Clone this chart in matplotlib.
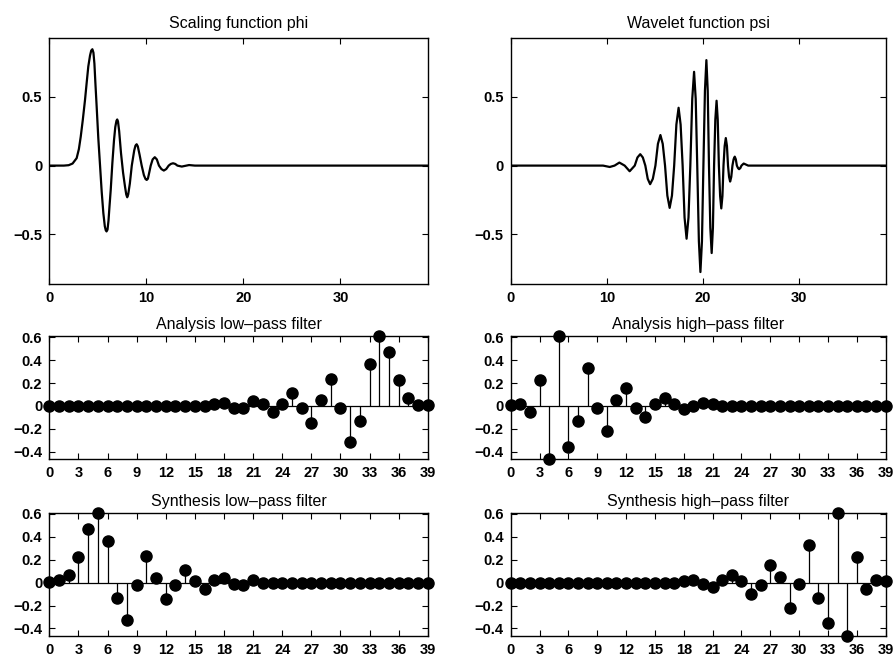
import numpy as np
import matplotlib
matplotlib.use("Agg")
from matplotlib import pyplot as plt

# Scaling function phi
phi_x = [0, 1.5, 2.0, 2.4, 2.82, 3.05, 3.24, 3.45, 3.68, 3.85, 4.02, 4.2, 4.32, 4.44,
         4.55, 4.65, 4.75, 4.88, 5.05, 5.23, 5.4, 5.57, 5.72, 5.82, 5.9, 6.0, 6.1,
         6.2, 6.33, 6.5, 6.67, 6.8, 6.92, 7.0, 7.08, 7.2, 7.39, 7.6, 7.8, 7.93,
         8.03, 8.13, 8.3, 8.5, 8.75, 8.88, 9.0, 9.12, 9.3, 9.52, 9.75, 9.92, 10.04,
         10.16, 10.3, 10.45, 10.65, 10.87, 11.08, 11.3, 11.55, 11.8, 12.05, 12.3,
         12.52, 12.75, 12.98, 13.2, 13.65, 14.4, 15.0, 39.0]
phi_y = [0, 0, 0.003, 0.015, 0.054, 0.12, 0.21, 0.33, 0.476, 0.60, 0.72, 0.80, 0.835,
         0.845, 0.82, 0.74, 0.60, 0.43, 0.20, 0.0, -0.19, -0.345, -0.44, -0.47,
         -0.478, -0.465, -0.40, -0.30, -0.176, 0.02, 0.186, 0.28, 0.325, 0.335, 0.32,
         0.25, 0.09, -0.05, -0.152, -0.21, -0.23, -0.21, -0.13, 0.0, 0.11, 0.145,
         0.155, 0.14, 0.08, 0.0, -0.07, -0.098, -0.104, -0.095, -0.05, 0.0, 0.045,
         0.061, 0.045, 0.0, -0.025, -0.036, -0.025, 0.0, 0.012, 0.017, 0.012, 0.0,
         -0.007, 0.004, 0.0, 0.0]

# Wavelet function psi
psi_x = [0, 9.6, 10.3, 10.8, 11.3, 11.85, 12.37, 12.9, 13.18, 13.47, 13.74, 14.0,
         14.25, 14.5, 14.78, 15.05, 15.31, 15.57, 15.81, 16.05, 16.29, 16.53, 16.77,
         17.0, 17.23, 17.46, 17.67, 17.88, 18.08, 18.29, 18.49, 18.68, 18.88, 19.07,
         19.24, 19.4, 19.57, 19.73, 19.89, 20.04, 20.2, 20.35, 20.49, 20.62, 20.76,
         20.9, 21.03, 21.15, 21.28, 21.41, 21.53, 21.65, 21.78, 21.9, 22.02, 22.13,
         22.25, 22.37, 22.49, 22.6, 22.71, 22.82, 22.94, 23.06, 23.18, 23.3, 23.41,
         23.52, 23.64, 23.75, 23.88, 24.0, 24.23, 24.7, 39.0]
psi_y = [0, 0, -0.01, 0.0, 0.022, 0.0, -0.041, 0.0, 0.059, 0.083, 0.059, 0.0,
         -0.096, -0.135, -0.096, 0.0, 0.158, 0.222, 0.158, 0.0, -0.218, -0.307,
         -0.218, 0.0, 0.298, 0.42, 0.298, 0.0, -0.377, -0.531, -0.377, 0.0, 0.484,
         0.681, 0.484, 0.0, -0.549, -0.773, -0.549, 0.0, 0.544, 0.766, 0.544, 0.0,
         -0.451, -0.635, -0.451, 0.0, 0.334, 0.471, 0.334, 0.0, -0.221, -0.311,
         -0.221, 0.0, 0.142, 0.2, 0.142, 0.0, -0.082, -0.116, -0.082, 0.0, 0.046,
         0.065, 0.046, 0.0, -0.018, -0.026, -0.018, 0.0, 0.015, 0.0, 0.0]

# Filter coefficients (index 0..39)
lo_d = [0, 0, 0, 0, 0, 0, 0, 0, 0, 0, 0, 0, 0, 0, 0, 0, 0, 0.02, 0.026, -0.02,
        -0.02, 0.043, 0.015, -0.055, 0.02, 0.11, -0.02, -0.145, 0.052, 0.235, -0.014,
        -0.319, -0.13, 0.362, 0.61, 0.472, 0.223, 0.07, 0.012, 0.005]
hi_d = [0.006, 0.02, -0.055, 0.223, -0.463, 0.61, -0.357, -0.13, 0.333, -0.014,
        -0.217, 0.052, 0.16, -0.017, -0.096, 0.017, 0.067, 0.014, -0.03, 0.0, 0.029,
        0.014, 0, 0, 0, 0, 0, 0, 0, 0, 0, 0, 0, 0, 0, 0, 0, 0, 0, 0]
lo_r = [0.005, 0.02, 0.07, 0.227, 0.471, 0.61, 0.362, -0.132, -0.322, -0.017, 0.23,
        0.043, -0.147, -0.02, 0.109, 0.014, -0.055, 0.02, 0.04, -0.009, -0.017, 0.02,
        0, 0, 0, 0, 0, 0, 0, 0, 0, 0, 0, 0, 0, 0, 0, 0, 0, 0]
hi_r = [0, 0, 0, 0, 0, 0, 0, 0, 0, 0, 0, 0, 0, 0, 0, 0, 0, 0, 0.01, 0.02, -0.01,
        -0.037, 0.02, 0.07, 0.01, -0.095, -0.023, 0.158, 0.049, -0.218, -0.014, 0.328,
        -0.13, -0.353, 0.61, -0.463, 0.227, -0.055, 0.026, 0.01]

plt.rcParams['font.family'] = ['Liberation Sans', 'DejaVu Sans']
plt.rcParams['xtick.direction'] = 'in'
plt.rcParams['ytick.direction'] = 'in'
plt.rcParams['xtick.top'] = True
plt.rcParams['ytick.right'] = True

fig = plt.figure(figsize=(8.96, 6.59), dpi=100)

left_l, w_l = 0.055, 0.4225
left_r, w_r = 0.570, 0.4185
title_size = 11.5


def style(ax):
    for s in ax.spines.values():
        s.set_linewidth(1.0)
    ax.tick_params(length=4, width=0.8, pad=5, labelsize=10.5)
    for lab in ax.get_xticklabels() + ax.get_yticklabels():
        lab.set_fontweight('bold')


# Top row: phi and psi
ax = fig.add_axes([left_l, 0.569, w_l, 0.373])
ax.plot(phi_x, phi_y, color='black', lw=1.6)
ax.set_xlim(0, 39)
ax.set_ylim(-0.86, 0.925)
ax.set_xticks([0, 10, 20, 30])
ax.set_yticks([-0.5, 0, 0.5])
ax.set_yticklabels(['\u22120.5', '0', '0.5'])
ax.set_title('Scaling function phi', fontsize=title_size, pad=7)
style(ax)

ax = fig.add_axes([left_r, 0.569, w_r, 0.373])
ax.plot(psi_x, psi_y, color='black', lw=1.6)
ax.set_xlim(0, 39)
ax.set_ylim(-0.86, 0.925)
ax.set_xticks([0, 10, 20, 30])
ax.set_yticks([-0.5, 0, 0.5])
ax.set_yticklabels(['\u22120.5', '0', '0.5'])
ax.set_title('Wavelet function psi', fontsize=title_size, pad=7)
style(ax)

panels = [
    (lo_d, 'Analysis low\u2013pass filter', left_l, w_l, 0.3035),
    (hi_d, 'Analysis high\u2013pass filter', left_r, w_r, 0.3035),
    (lo_r, 'Synthesis low\u2013pass filter', left_l, w_l, 0.0354),
    (hi_r, 'Synthesis high\u2013pass filter', left_r, w_r, 0.0354),
]
allv = lo_d + hi_d + lo_r + hi_r
for vals, title, x0, w, y0 in panels:
    ax = fig.add_axes([x0, y0, w, 0.1865])
    k = np.arange(len(vals))
    ax.vlines(k, 0, vals, color='black', lw=0.9)
    ax.axhline(0, color='black', lw=0.9)
    ax.plot(k, vals, 'o', color='black', ms=8, clip_on=False, zorder=3)
    ax.set_xlim(0, 39)
    ax.set_ylim(min(allv), max(allv))
    ax.set_xticks(np.arange(0, 40, 3))
    ax.set_yticks([-0.4, -0.2, 0, 0.2, 0.4, 0.6])
    ax.set_yticklabels(['\u22120.4', '\u22120.2', '0', '0.2', '0.4', '0.6'])
    ax.set_title(title, fontsize=title_size, pad=5)
    style(ax)

fig.savefig('out.png', dpi=100)
